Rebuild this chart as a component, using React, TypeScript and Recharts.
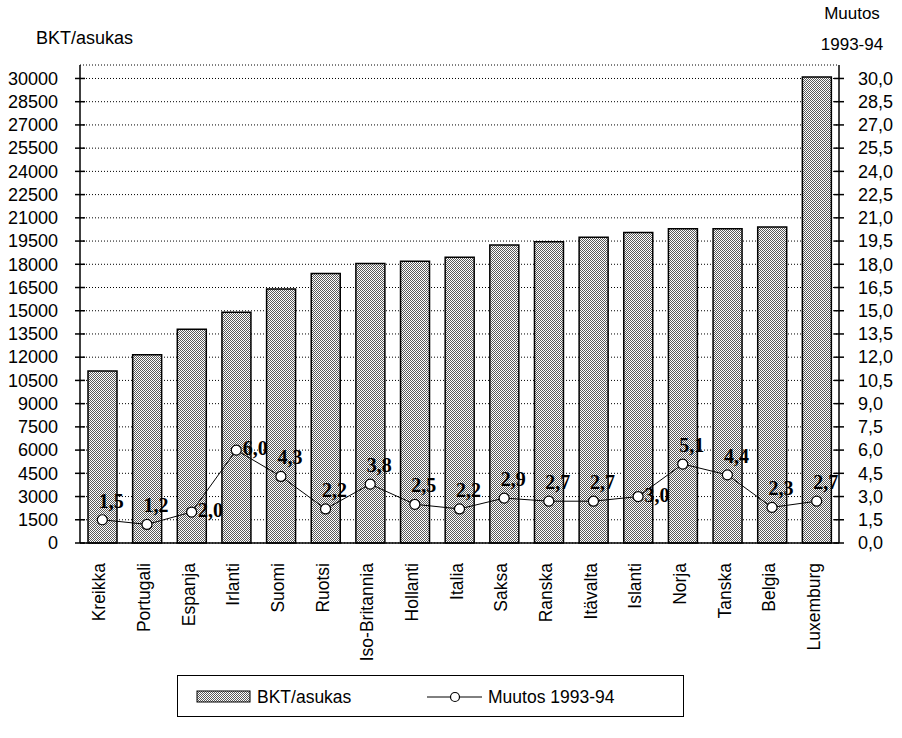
import React from "react";
import {
  ComposedChart,
  Bar,
  Line,
  XAxis,
  YAxis,
  CartesianGrid,
  LabelList,
} from "recharts";

const categories = [
  "Kreikka", "Portugali", "Espanja", "Irlanti", "Suomi", "Ruotsi",
  "Iso-Britannia", "Hollanti", "Italia", "Saksa", "Ranska", "Itävalta",
  "Islanti", "Norja", "Tanska", "Belgia", "Luxemburg",
];

const gdpPerCapita = [
  11100, 12150, 13800, 14900, 16400, 17400, 18050, 18200, 18450,
  19250, 19450, 19750, 20050, 20300, 20300, 20400, 30100,
];

const change = [
  1.5, 1.2, 2.0, 6.0, 4.3, 2.2, 3.8, 2.5, 2.2, 2.9, 2.7, 2.7, 3.0, 5.1, 4.4, 2.3, 2.7,
];

const leftTicks = [
  0, 1500, 3000, 4500, 6000, 7500, 9000, 10500, 12000, 13500, 15000,
  16500, 18000, 19500, 21000, 22500, 24000, 25500, 27000, 28500, 30000,
];

const rightTicks = [
  0, 1.5, 3, 4.5, 6, 7.5, 9, 10.5, 12, 13.5, 15,
  16.5, 18, 19.5, 21, 22.5, 24, 25.5, 27, 28.5, 30,
];

// labels that sit to the right of the point instead of above it
const sideLabels = ["Espanja", "Irlanti", "Islanti"];

const data = categories.map((name, i) => ({
  name,
  gdp: gdpPerCapita[i],
  change: change[i],
}));

const SANS = "'Liberation Sans', Arial, sans-serif";
const SERIF = "'Liberation Serif', 'Times New Roman', serif";

const LeftTick = ({ x, y, payload }: any) => (
  <g>
    <line x1={x - 5} x2={x + 5} y1={y} y2={y} stroke="#000" strokeWidth={1.5} />
    <text x={x - 22} y={y} dy="0.35em" textAnchor="end" fontFamily={SANS} fontSize={18} fill="#000">
      {payload.value}
    </text>
  </g>
);

const RightTick = ({ x, y, payload }: any) => (
  <g>
    <line x1={x - 5} x2={x + 5} y1={y} y2={y} stroke="#000" strokeWidth={1.5} />
    <text x={x + 19} y={y} dy="0.35em" textAnchor="start" fontFamily={SANS} fontSize={18} fill="#000">
      {Number(payload.value).toFixed(1).replace(".", ",")}
    </text>
  </g>
);

const CategoryTick = ({ x, y, payload }: any) => (
  <text
    transform={`translate(${x - 3},${y + 20}) rotate(-90)`}
    dy="0.35em"
    textAnchor="end"
    fontFamily={SANS}
    fontSize={17.5}
    fill="#000"
  >
    {payload.value}
  </text>
);

const ChangeLabel = (props: any) => {
  const { x, y, value, index } = props;
  const side = sideLabels.includes(categories[index]);
  const dx = side ? 19 : 9;
  const dy = side ? -2 : -19;
  return (
    <text
      x={x + dx}
      y={y + dy}
      dy="0.35em"
      textAnchor="middle"
      fontFamily={SERIF}
      fontWeight="bold"
      fontSize={20}
      fill="#000"
    >
      {Number(value).toFixed(1).replace(".", ",")}
    </text>
  );
};

const Dither = ({ id }: { id: string }) => (
  <pattern id={id} width={2} height={2} patternUnits="userSpaceOnUse">
    <rect width={2} height={2} fill="#fff" />
    <rect x={0} y={0} width={1} height={1} fill="#5a5a5a" />
    <rect x={1} y={1} width={1} height={1} fill="#5a5a5a" />
  </pattern>
);

const App = () => {
  return (
    <div style={{ position: "absolute", left: 0, top: 0, width: 902, height: 738, background: "#fff" }}>
      <ComposedChart
        width={902}
        height={738}
        data={data}
        margin={{ top: 65, right: 0, left: 0, bottom: 0 }}
      >
        <defs>
          <Dither id="dither" />
        </defs>
        <CartesianGrid
          yAxisId="left"
          vertical={false}
          stroke="#000"
          strokeDasharray="1 2"
        />
        <XAxis
          dataKey="name"
          height={195}
          interval={0}
          tickSize={0}
          tickMargin={0}
          tick={<CategoryTick />}
          axisLine={{ stroke: "#000", strokeWidth: 1.5 }}
          tickLine={false}
        />
        <YAxis
          yAxisId="left"
          width={80}
          domain={[0, 30870]}
          ticks={leftTicks}
          interval={0}
          tickSize={0}
          tickMargin={0}
          tick={<LeftTick />}
          tickLine={false}
          axisLine={{ stroke: "#000", strokeWidth: 1.5 }}
        />
        <YAxis
          yAxisId="right"
          orientation="right"
          width={63}
          domain={[0, 30.87]}
          ticks={rightTicks}
          interval={0}
          tickSize={0}
          tickMargin={0}
          tick={<RightTick />}
          tickLine={false}
          axisLine={{ stroke: "#000", strokeWidth: 1.5 }}
        />
        <Bar
          yAxisId="left"
          dataKey="gdp"
          barSize={29}
          fill="url(#dither)"
          stroke="#000"
          strokeWidth={1.5}
          isAnimationActive={false}
        />
        <Line
          yAxisId="right"
          dataKey="change"
          type="linear"
          stroke="#000"
          strokeWidth={1}
          dot={{ r: 5, fill: "#fff", stroke: "#000", strokeWidth: 1.2 }}
          activeDot={false}
          isAnimationActive={false}
        >
          <LabelList dataKey="change" content={<ChangeLabel />} />
        </Line>
        <text x={36} y={38} dy="0.35em" fontFamily={SANS} fontSize={18} fill="#000">
          BKT/asukas
        </text>
        <text x={852} y={13} dy="0.35em" textAnchor="middle" fontFamily={SANS} fontSize={17} fill="#000">
          Muutos
        </text>
        <text x={852} y={44} dy="0.35em" textAnchor="middle" fontFamily={SANS} fontSize={17} fill="#000">
          1993-94
        </text>
      </ComposedChart>

      <div
        style={{
          position: "absolute",
          left: 177,
          top: 675,
          width: 507,
          height: 42,
          border: "1.5px solid #000",
          boxSizing: "border-box",
          fontFamily: SANS,
          fontSize: 17,
        }}
      >
        <svg width={504} height={39} style={{ position: "absolute", left: 0, top: 0 }}>
          <defs>
            <Dither id="dither-legend" />
          </defs>
          <rect x={19} y={15} width={53} height={11} fill="url(#dither-legend)" stroke="#000" strokeWidth={1} />
          <text x={79} y={21} dy="0.35em" fontFamily={SANS} fontSize={17.5} fill="#000">
            BKT/asukas
          </text>
          <line x1={249} x2={304} y1={21} y2={21} stroke="#000" strokeWidth={1} />
          <circle cx={277} cy={21} r={4.5} fill="#fff" stroke="#000" strokeWidth={1.2} />
          <text x={310} y={21} dy="0.35em" fontFamily={SANS} fontSize={17.5} fill="#000">
            Muutos 1993-94
          </text>
        </svg>
      </div>
    </div>
  );
};

export default App;
